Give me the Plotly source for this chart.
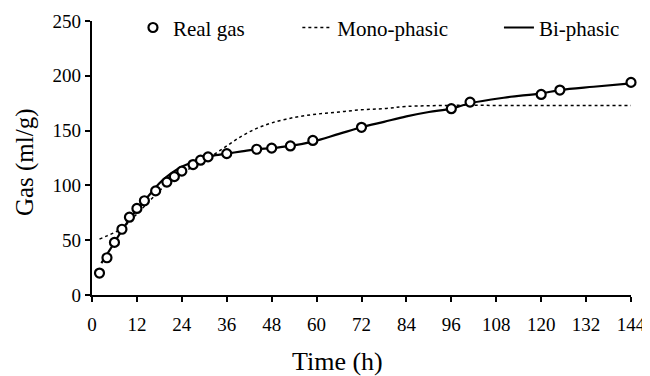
import plotly.graph_objects as go

# Real gas measurements
real_t = [2, 4, 6, 8, 10, 12, 14, 17, 20, 22, 24, 27, 29, 31, 36, 44, 48, 53, 59, 72, 96, 101, 120, 125, 144]
real_gas = [20, 34, 48, 60, 71, 79, 86, 95, 103, 108, 113, 119, 123, 126, 129, 133, 134, 136, 141, 153, 170, 176, 183, 187, 194]

# Mono-phasic model curve
mono_t = [2, 4, 6, 8, 10, 12, 14, 16, 18, 20, 22, 24, 28, 32, 36, 40, 44, 48, 54, 60, 66, 72, 78, 84, 96, 108, 120, 132, 144]
mono_gas = [51, 54, 57, 61, 67, 74, 81, 88, 95, 101, 106, 111, 119, 127, 136, 145, 152, 157, 162, 165, 167, 169, 170, 172, 173, 173, 173, 173, 173]

# Bi-phasic model curve
bi_t = [2.5, 4, 6, 8, 10, 12, 14, 16, 18, 20, 22, 24, 26, 28, 30, 32, 36, 40, 44, 48, 53, 59, 66, 72, 78, 84, 90, 96, 101, 110, 120, 125, 134, 144]
bi_gas = [29, 37, 48, 59, 69, 78, 86, 94, 102, 108, 113, 117, 120, 123, 125, 127, 129, 131, 133, 134, 136, 140, 147, 153, 158, 163, 167, 170, 175, 180, 184, 187, 190, 193]

x_ticks = [0, 12, 24, 36, 48, 60, 72, 84, 96, 108, 120, 132, 144]
y_ticks = [0, 50, 100, 150, 200, 250]

x_title = "Time (h)"
y_title = "Gas (ml/g)"

FONT = "Times New Roman, Liberation Serif, serif"

fig = go.Figure()
fig.add_trace(go.Scatter(
    x=mono_t, y=mono_gas, mode="lines", name="Mono-phasic",
    line=dict(color="black", width=1.5, dash="dot", shape="spline"),
    legend="legend2"))
fig.add_trace(go.Scatter(
    x=bi_t, y=bi_gas, mode="lines", name="Bi-phasic",
    line=dict(color="black", width=2.2, shape="spline"),
    legend="legend3"))
fig.add_trace(go.Scatter(
    x=real_t, y=real_gas, mode="markers", name="Real gas",
    marker=dict(symbol="circle", size=9, color="white",
                line=dict(color="black", width=2.2)),
    cliponaxis=False, legend="legend"))

legend_common = dict(orientation="h", yanchor="middle", y=0.975, xanchor="left",
                     bgcolor="rgba(0,0,0,0)", font=dict(family=FONT, size=21, color="black"),
                     itemclick=False)

# The page body adds an 8px margin, so the figure is 8px smaller and shifted.
fig.update_layout(
    width=642, height=368,
    margin=dict(l=84, r=19, t=13, b=81, autoexpand=False),
    paper_bgcolor="white", plot_bgcolor="white",
    font=dict(family=FONT, size=19, color="black"),
    showlegend=True,
    legend=dict(x=0.076, **legend_common),
    legend2=dict(x=0.381, **legend_common),
    legend3=dict(x=0.755, **legend_common),
    xaxis=dict(
        range=[0, 144], tickmode="array", tickvals=x_ticks,
        showline=True, linecolor="black", linewidth=2.2,
        ticks="outside", ticklen=5, tickwidth=2, tickcolor="black",
        showgrid=False, zeroline=False, automargin=False,
        ticklabelstandoff=6,
        tickfont=dict(family=FONT, size=19, color="black"),
    ),
    yaxis=dict(
        range=[0, 250], tickmode="array", tickvals=y_ticks,
        showline=True, linecolor="black", linewidth=2.2,
        ticks="outside", ticklen=5, tickwidth=2, tickcolor="black",
        showgrid=False, zeroline=False, automargin=False,
        tickfont=dict(family=FONT, size=19, color="black"),
    ),
    annotations=[
        dict(text=x_title, xref="paper", yref="paper", x=0.456, y=0,
             xanchor="center", yanchor="middle", yshift=-66, showarrow=False,
             font=dict(family=FONT, size=26, color="black")),
        dict(text=y_title, xref="paper", yref="paper", x=0, y=0.485,
             xanchor="center", yanchor="middle", xshift=-67, showarrow=False,
             textangle=-90, font=dict(family=FONT, size=25, color="black")),
    ],
)

fig.write_html("out.html")
